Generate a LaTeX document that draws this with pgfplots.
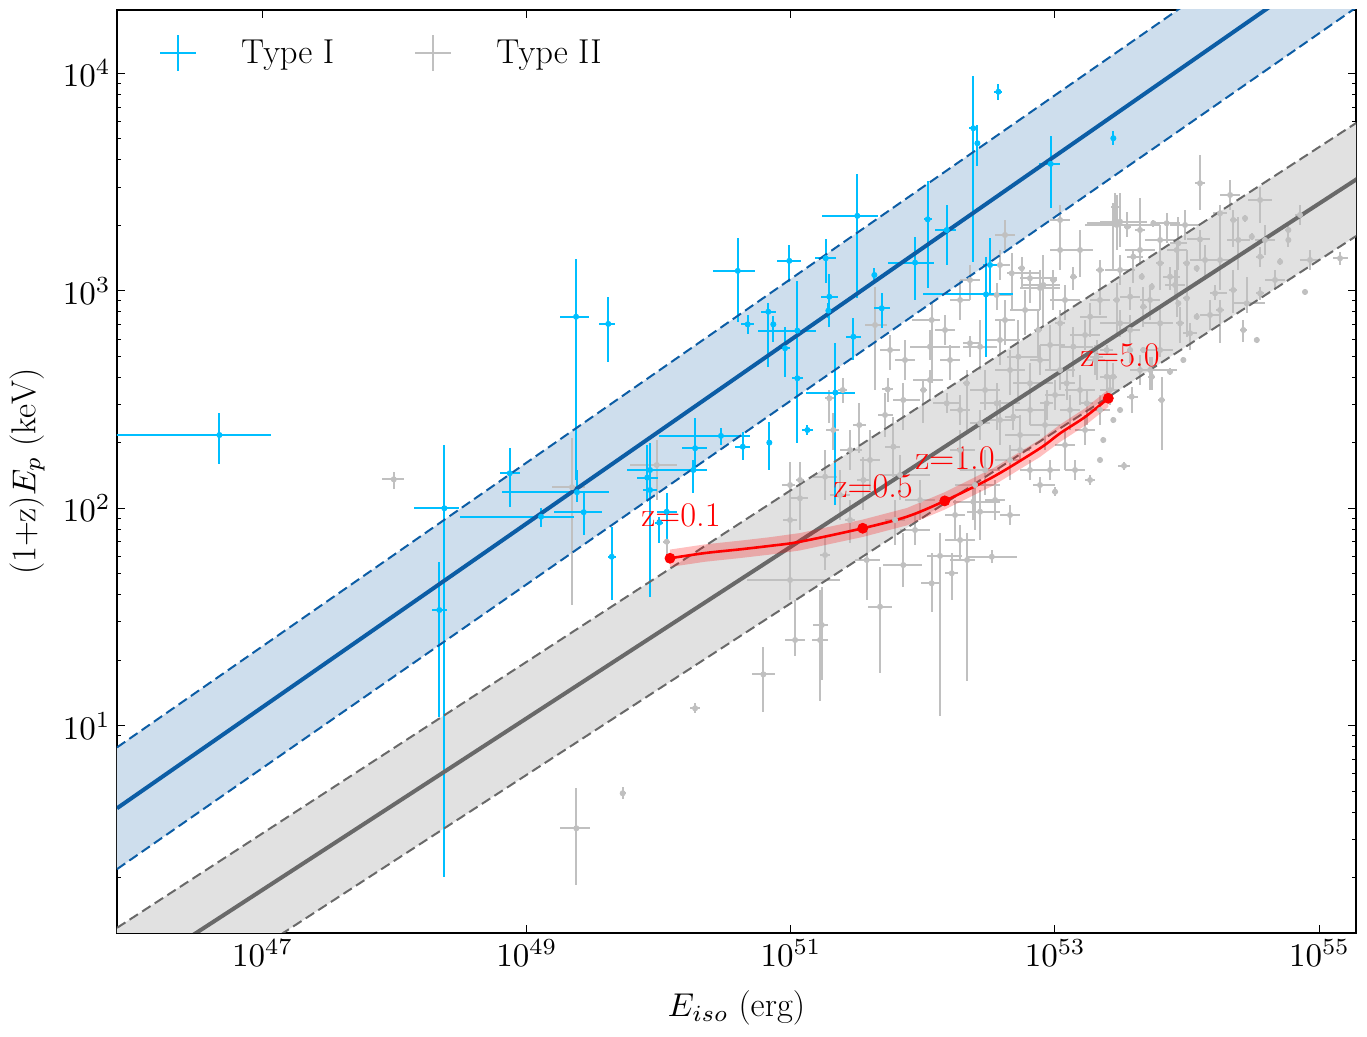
\documentclass[border=0pt]{standalone}
\usepackage[OT1]{fontenc}
\usepackage{pgfplots}
\usepackage{pgfplotstable}
\pgfplotsset{compat=1.18}
\DeclareFontShape{OT1}{cmr}{m}{n}{<-13> cmr7 <13-> cmr10}{}
\DeclareFontShape{OML}{cmm}{m}{it}{<-13> cmmi7 <13-> cmmi10}{}
\DeclareFontShape{OMS}{cmsy}{m}{n}{<-13> cmsy7 <13-> cmsy10}{}
\definecolor{typeI}{RGB}{0,191,255}
\definecolor{typeII}{RGB}{192,192,192}
\definecolor{sblue}{HTML}{0C5DA5}
\definecolor{sbluefill}{RGB}{206,222,237}
\definecolor{dgray}{RGB}{105,105,105}
\definecolor{gfill}{RGB}{225,225,225}
\newcommand\myfont{\fontsize{16.5}{19.8}\selectfont}

% log10(E_iso/erg)  log10((1+z)Ep/keV)  and log-errors
\pgfplotstableread{
x y xm xp yp ym
46.675 2.337 0.900 0.391 0.100 0.133
48.378 2.000 0.232 0.109 0.291 1.696
48.340 1.532 0.055 0.058 0.222 0.491
48.873 2.161 0.076 0.076 0.115 0.153
49.110 1.961 0.615 0.247 0.039 0.046
49.375 2.881 0.121 0.101 0.264 0.751
49.382 2.074 0.568 0.242 0.103 0.043
49.433 1.982 0.227 0.139 0.095 0.104
49.619 2.848 0.068 0.050 0.126 0.173
49.645 1.777 0.030 0.030 0.138 0.199
49.935 2.176 0.176 0.227 0.124 0.584
49.914 2.141 0.080 0.080 0.150 0.103
49.935 2.084 0.050 0.050 0.046 0.046
50.061 1.984 0.076 0.076 0.085 0.130
50.005 1.934 0.030 0.030 0.028 0.094
50.276 2.276 0.101 0.088 0.138 0.100
50.263 2.176 0.100 0.100 0.046 0.107
50.472 2.333 0.469 0.220 0.037 0.041
50.637 2.283 0.057 0.057 0.068 0.063
50.838 2.302 0.020 0.020 0.097 0.126
50.599 3.092 0.185 0.131 0.153 0.233
50.674 2.846 0.050 0.050 0.043 0.043
50.989 3.138 0.090 0.090 0.074 0.095
51.265 3.150 0.080 0.080 0.089 0.115
51.504 3.345 0.269 0.159 0.193 0.379
51.633 3.073 0.015 0.015 0.030 0.030
50.830 2.904 0.055 0.055 0.041 0.253
50.868 2.846 0.015 0.015 0.038 0.080
50.957 2.736 0.040 0.040 0.099 0.130
51.050 2.817 0.300 0.142 0.230 0.135
51.050 2.598 0.040 0.040 0.084 0.299
51.292 2.973 0.066 0.066 0.104 0.138
51.285 2.909 0.015 0.015 0.035 0.035
51.474 2.789 0.055 0.055 0.085 0.107
51.689 2.920 0.062 0.062 0.072 0.092
51.941 3.130 0.202 0.144 0.120 0.172
51.338 2.532 0.222 0.149 0.227 0.517
51.126 2.360 0.040 0.040 0.023 0.023
52.572 3.916 0.030 0.030 0.037 0.037
52.382 3.748 0.035 0.035 0.242 0.614
52.413 3.679 0.020 0.020 0.084 0.104
52.968 3.584 0.086 0.070 0.129 0.204
53.442 3.702 0.020 0.020 0.032 0.032
52.037 3.329 0.030 0.030 0.178 0.317
52.181 3.280 0.089 0.070 0.115 0.161
52.509 3.119 0.053 0.053 0.123 0.130
52.478 2.984 0.475 0.207 0.173 0.288
}\typeItab

\pgfplotstableread{
x y xm xp yp ym
47.995 2.133 0.089 0.080 0.035 0.046
49.344 2.097 0.151 0.098 0.227 0.541
49.377 0.528 0.121 0.101 0.184 0.261
49.986 2.199 0.202 0.151 0.115 0.161
50.061 1.846 0.028 0.025 0.115 0.084
50.995 1.670 0.326 0.379 0.092 0.092
50.995 1.946 0.053 0.053 0.267 0.216
51.638 2.843 0.076 0.089 0.176 0.299
51.734 2.547 0.043 0.040 0.052 0.057
51.714 2.429 0.053 0.061 0.101 0.101
51.394 2.544 0.036 0.033 0.055 0.060
51.292 2.506 0.033 0.036 0.038 0.115
51.322 2.360 0.055 0.043 0.078 0.092
51.519 2.383 0.048 0.051 0.101 0.129
51.777 2.283 0.063 0.051 0.137 0.139
51.260 2.145 0.091 0.091 0.123 0.107
51.550 2.130 0.048 0.051 0.106 0.138
51.070 2.130 0.030 0.030 0.084 0.092
50.995 2.107 0.063 0.038 0.107 0.161
51.070 2.046 0.076 0.061 0.162 0.146
51.235 1.463 0.066 0.048 0.176 0.253
51.033 1.394 0.076 0.076 0.184 0.074
50.793 1.236 0.088 0.088 0.124 0.172
51.676 1.547 0.091 0.091 0.183 0.305
51.575 1.762 0.089 0.101 0.138 0.184
51.260 1.785 0.038 0.038 0.083 0.069
51.852 1.739 0.151 0.139 0.146 0.100
52.067 1.655 0.081 0.063 0.139 0.131
52.130 1.781 0.098 0.167 0.106 0.736
52.219 1.701 0.051 0.048 0.093 0.123
52.335 1.762 0.129 0.061 0.124 0.557
52.522 1.777 0.177 0.189 0.031 0.029
52.887 2.107 0.053 0.114 0.037 0.037
53.001 2.076 0.023 0.023 0.022 0.020
52.382 2.030 0.154 0.202 0.068 0.084
52.433 1.984 0.098 0.151 0.100 0.130
51.449 1.946 0.038 0.038 0.092 0.106
52.067 2.866 0.151 0.063 0.078 0.290
52.054 2.743 0.151 0.227 0.077 0.061
52.054 2.590 0.129 0.098 0.046 0.092
52.357 2.759 0.053 0.076 0.034 0.063
52.433 2.743 0.129 0.129 0.123 0.107
52.559 2.981 0.076 0.126 0.055 0.069
52.673 3.081 0.038 0.214 0.093 0.169
52.749 3.104 0.028 0.025 0.052 0.086
52.811 3.058 0.076 0.202 0.038 0.114
52.912 3.027 0.154 0.127 0.138 0.192
52.988 3.050 0.025 0.028 0.046 0.138
53.190 3.188 0.114 0.101 0.092 0.123
53.442 3.311 0.201 0.051 0.093 0.215
53.341 3.096 0.030 0.030 0.046 0.138
53.139 3.065 0.025 0.028 0.045 0.061
52.723 2.697 0.088 0.164 0.169 0.186
52.874 2.820 0.033 0.028 0.092 0.124
53.039 2.851 0.038 0.038 0.061 0.247
53.139 2.743 0.101 0.151 0.091 0.139
53.266 2.881 0.076 0.126 0.063 0.093
53.316 2.697 0.051 0.048 0.077 0.107
52.559 2.483 0.126 0.176 0.093 0.124
52.332 2.575 0.028 0.025 0.061 0.215
52.811 2.575 0.129 0.174 0.093 0.123
52.938 2.483 0.051 0.048 0.061 0.077
53.089 2.575 0.051 0.063 0.061 0.077
53.241 2.483 0.051 0.048 0.061 0.099
53.392 2.605 0.051 0.048 0.077 0.084
51.852 2.498 0.078 0.126 0.078 0.138
52.004 2.544 0.025 0.028 0.046 0.152
52.181 2.483 0.104 0.100 0.047 0.045
52.685 2.421 0.063 0.051 0.054 0.061
52.433 2.391 0.076 0.076 0.061 0.077
53.468 3.303 0.240 0.327 0.138 0.115
53.548 3.295 0.025 0.028 0.069 0.046
53.644 3.280 0.038 0.038 0.147 0.077
53.745 3.311 0.015 0.015 0.015 0.015
54.098 3.495 0.038 0.038 0.130 0.123
54.553 3.418 0.089 0.088 0.061 0.107
54.439 3.334 0.015 0.015 0.015 0.015
54.350 3.326 0.025 0.028 0.046 0.123
54.250 3.357 0.053 0.053 0.038 0.054
54.490 3.249 0.015 0.015 0.015 0.015
54.388 3.234 0.088 0.089 0.107 0.138
54.767 3.280 0.025 0.021 0.038 0.077
54.767 3.234 0.015 0.015 0.015 0.015
54.704 3.134 0.015 0.015 0.015 0.015
54.553 3.157 0.030 0.030 0.046 0.046
55.158 3.150 0.050 0.063 0.031 0.031
54.250 3.142 0.076 0.076 0.216 0.138
54.098 3.237 0.101 0.076 0.043 0.095
53.934 3.219 0.063 0.063 0.122 0.123
53.846 3.311 0.101 0.101 0.046 0.092
53.455 3.387 0.030 0.030 0.062 0.092
53.593 3.157 0.050 0.076 0.031 0.121
53.796 3.127 0.030 0.030 0.061 0.123
53.998 3.127 0.028 0.025 0.061 0.123
54.073 3.104 0.015 0.015 0.015 0.015
54.553 2.989 0.030 0.030 0.030 0.031
54.452 2.943 0.101 0.139 0.122 0.046
54.350 3.004 0.033 0.028 0.092 0.107
54.212 2.989 0.038 0.089 0.038 0.031
54.250 2.912 0.030 0.030 0.046 0.153
54.426 2.820 0.025 0.028 0.046 0.054
54.528 2.774 0.015 0.015 0.015 0.015
54.073 2.881 0.015 0.015 0.015 0.015
53.998 2.966 0.028 0.025 0.099 0.177
53.934 2.943 0.015 0.015 0.015 0.015
53.871 3.065 0.053 0.076 0.046 0.061
53.733 3.019 0.015 0.015 0.015 0.015
53.657 3.065 0.015 0.015 0.015 0.015
53.569 2.973 0.076 0.076 0.046 0.061
53.468 2.958 0.028 0.025 0.078 0.169
53.493 2.851 0.151 0.076 0.061 0.062
53.669 2.927 0.025 0.028 0.092 0.092
53.796 2.851 0.126 0.101 0.076 0.154
53.947 2.851 0.030 0.030 0.076 0.092
54.023 2.805 0.051 0.051 0.046 0.077
53.796 2.728 0.151 0.101 0.032 0.032
53.720 2.636 0.151 0.202 0.061 0.092
53.871 2.628 0.015 0.015 0.015 0.015
53.972 2.682 0.015 0.015 0.015 0.015
53.669 2.728 0.015 0.015 0.015 0.015
53.569 2.728 0.023 0.023 0.032 0.060
53.392 2.728 0.051 0.050 0.023 0.023
53.442 2.605 0.025 0.028 0.063 0.061
53.581 2.513 0.038 0.050 0.046 0.077
53.493 2.452 0.015 0.015 0.015 0.015
53.808 2.498 0.028 0.025 0.107 0.230
53.733 2.605 0.028 0.025 0.092 0.061
53.442 2.406 0.015 0.015 0.015 0.015
53.366 2.314 0.015 0.015 0.015 0.015
50.276 1.080 0.038 0.038 0.023 0.023
49.728 0.689 0.020 0.025 0.029 0.026
51.222 1.394 0.061 0.061 0.230 0.281
53.493 3.318 0.151 0.202 0.132 0.115
53.922 3.188 0.076 0.076 0.031 0.307
52.622 2.866 0.076 0.076 0.092 0.115
52.282 2.958 0.076 0.076 0.092 0.092
53.039 3.188 0.076 0.076 0.069 0.092
53.341 2.452 0.076 0.076 0.069 0.069
52.887 2.682 0.076 0.076 0.069 0.069
52.206 2.682 0.076 0.076 0.069 0.092
53.114 2.452 0.076 0.076 0.069 0.092
52.584 2.406 0.114 0.114 0.092 0.115
52.736 2.337 0.114 0.151 0.092 0.115
52.925 2.383 0.114 0.114 0.092 0.115
53.076 2.291 0.076 0.076 0.069 0.115
53.228 2.360 0.076 0.076 0.069 0.069
52.660 2.222 0.114 0.076 0.069 0.092
52.471 2.176 0.189 0.114 0.092 0.115
52.282 2.268 0.076 0.114 0.092 0.092
52.811 2.176 0.076 0.114 0.046 0.046
53.341 2.222 0.015 0.015 0.015 0.015
53.523 2.195 0.045 0.045 0.018 0.018
52.395 2.107 0.151 0.189 0.069 0.207
52.547 2.038 0.076 0.076 0.092 0.092
52.244 1.969 0.076 0.076 0.069 0.115
52.660 1.969 0.076 0.076 0.046 0.046
51.979 2.038 0.114 0.114 0.092 0.092
51.790 1.946 0.076 0.076 0.092 0.115
51.941 1.900 0.114 0.114 0.069 0.069
52.282 1.854 0.114 0.114 0.069 0.092
51.827 2.153 0.151 0.227 0.092 0.115
51.600 2.222 0.076 0.076 0.138 0.138
51.373 2.061 0.076 0.076 0.115 0.115
51.449 2.268 0.076 0.091 0.092 0.092
51.865 2.682 0.076 0.076 0.092 0.092
51.752 2.728 0.076 0.076 0.069 0.092
54.893 2.995 0.015 0.015 0.015 0.015
52.584 2.774 0.114 0.151 0.092 0.115
52.774 2.912 0.114 0.114 0.092 0.115
52.887 3.013 0.151 0.151 0.083 0.101
53.076 2.958 0.114 0.114 0.069 0.092
53.228 2.797 0.114 0.114 0.069 0.069
52.963 2.751 0.076 0.114 0.092 0.115
52.660 2.636 0.114 0.114 0.092 0.115
52.471 2.544 0.114 0.114 0.092 0.092
53.039 2.636 0.114 0.114 0.069 0.092
53.190 2.544 0.114 0.114 0.069 0.069
52.812 2.452 0.114 0.114 0.069 0.069
53.001 2.521 0.076 0.076 0.069 0.069
53.341 2.958 0.076 0.076 0.069 0.069
53.493 3.096 0.114 0.114 0.069 0.069
53.644 3.188 0.114 0.114 0.069 0.069
53.796 3.234 0.114 0.114 0.069 0.069
53.985 3.303 0.114 0.114 0.069 0.069
54.136 3.142 0.114 0.114 0.069 0.092
53.720 2.958 0.076 0.076 0.069 0.092
53.909 3.027 0.076 0.076 0.069 0.069
54.174 2.889 0.076 0.076 0.069 0.069
53.569 2.820 0.076 0.076 0.069 0.069
53.304 2.682 0.076 0.076 0.069 0.069
53.417 2.544 0.076 0.076 0.069 0.069
53.644 2.636 0.076 0.076 0.069 0.069
52.584 3.119 0.076 0.076 0.069 0.069
52.357 3.050 0.076 0.076 0.069 0.092
52.168 2.820 0.076 0.076 0.069 0.069
52.282 2.452 0.076 0.076 0.069 0.069
52.736 2.268 0.076 0.076 0.046 0.046
52.963 2.176 0.076 0.076 0.046 0.046
53.152 2.176 0.076 0.076 0.046 0.046
53.266 2.130 0.038 0.038 0.023 0.023
52.622 3.257 0.076 0.076 0.069 0.069
53.039 3.326 0.076 0.076 0.069 0.069
54.326 3.441 0.076 0.076 0.069 0.069
54.590 3.234 0.076 0.076 0.069 0.069
54.855 3.349 0.038 0.038 0.046 0.046
54.931 3.142 0.076 0.076 0.046 0.046
54.666 3.050 0.076 0.076 0.046 0.046
}\typeIItab

\begin{document}
\begin{tikzpicture}
\begin{axis}[
  name=ax,
  scale only axis, width=619.5pt, height=461.5pt,
  xmin=45.900, xmax=55.279, ymin=0.0464, ymax=4.292,
  xtick={47,49,51,53,55},
  xticklabels={$10^{47}$,$10^{49}$,$10^{51}$,$10^{53}$,$10^{55}$},
  ytick={1,2,3,4},
  yticklabels={$10^{1}$,$10^{2}$,$10^{3}$,$10^{4}$},
  minor ytick={0.301,0.477,0.602,0.699,0.778,0.845,0.903,0.954,
               1.301,1.477,1.602,1.699,1.778,1.845,1.903,1.954,
               2.301,2.477,2.602,2.699,2.778,2.845,2.903,2.954,
               3.301,3.477,3.602,3.699,3.778,3.845,3.903,3.954},
  tick align=inside,
  major tick length=4pt, minor tick length=2pt,
  every tick/.style={black, line width=0.5pt},
  axis line style={line width=0.8pt},
  tick label style={font=\myfont},
  xlabel={$E_{iso}$ (erg)},
  ylabel={(1+z)$E_p$ (keV)},
  label style={font=\myfont},
  xlabel style={at={(axis description cs:0.5,-0.0813)}, anchor=center},
  ylabel style={at={(axis description cs:-0.0726,0.5)}, anchor=center},
  legend style={at={(rel axis cs:0.034,0.9534)}, anchor=west, draw=none, fill=none,
    font=\myfont, inner sep=0pt, outer sep=0pt,
    /tikz/every odd column/.append style={column sep=20pt},
    /tikz/every even column/.append style={column sep=38pt}},
  legend columns=2,
  legend cell align=left,
]
% bands
\addplot[draw=none, fill=sbluefill, forget plot] coordinates {(45.9,0.900) (55.3,4.8715) (55.3,4.3115) (45.9,0.340)} -- cycle;
\addplot[draw=none, fill=gfill, forget plot] coordinates {(45.9,0.070) (55.3,3.780) (55.3,3.260) (45.9,-0.450)} -- cycle;

% Type II
\addplot[only marks, mark=*, mark size=1.3pt, color=typeII, forget plot,
  error bars/.cd, x dir=both, x explicit, y dir=both, y explicit, error mark=none,
  error bar style={line width=1pt, typeII}]
  table[x=x, y=y, x error plus=xp, x error minus=xm, y error plus=yp, y error minus=ym] {\typeIItab};
% Type I
\addplot[only marks, mark=*, mark size=1.3pt, color=typeI, forget plot,
  error bars/.cd, x dir=both, x explicit, y dir=both, y explicit, error mark=none,
  error bar style={line width=1pt, typeI}]
  table[x=x, y=y, x error plus=xp, x error minus=xm, y error plus=yp, y error minus=ym] {\typeItab};

% relations
\addplot[sblue, line width=2pt, forget plot] coordinates {(45.9,0.620) (55.3,4.5915)};
\addplot[sblue, line width=1pt, dash pattern=on 5pt off 2.5pt, forget plot] coordinates {(45.9,0.900) (55.3,4.8715)};
\addplot[sblue, line width=1pt, dash pattern=on 5pt off 2.5pt, forget plot] coordinates {(45.9,0.340) (55.3,4.3115)};
\addplot[dgray, line width=2pt, forget plot] coordinates {(45.9,-0.190) (55.3,3.520)};
\addplot[dgray, line width=1pt, dash pattern=on 5pt off 2.5pt, forget plot] coordinates {(45.9,0.070) (55.3,3.780)};
\addplot[dgray, line width=1pt, dash pattern=on 5pt off 2.5pt, forget plot] coordinates {(45.9,-0.450) (55.3,3.260)};

% red track
\addplot[draw=none, fill=red, fill opacity=0.25, forget plot] coordinates {
(50.086,1.810) (50.351,1.834) (50.616,1.851) (50.843,1.867) (51.070,1.886) (51.545,1.948)
(51.878,2.001) (52.166,2.074) (52.534,2.185) (52.887,2.316) (53.039,2.385) (53.228,2.460) (53.404,2.546)
(53.404,2.466) (53.228,2.380) (53.039,2.305) (52.887,2.236) (52.534,2.105) (52.166,1.994) (51.878,1.921)
(51.545,1.868) (51.070,1.806) (50.843,1.787) (50.616,1.771) (50.351,1.754) (50.086,1.730)} -- cycle;
\addplot[red, line width=1.3pt, smooth, forget plot] coordinates {
(50.086,1.770) (50.351,1.794) (50.616,1.811) (50.843,1.827) (51.070,1.846) (51.545,1.908)
(51.878,1.961) (52.166,2.034) (52.534,2.145) (52.887,2.276) (53.039,2.345) (53.228,2.420) (53.404,2.506)};
\addplot[only marks, mark=*, mark size=2.5pt, red, forget plot] coordinates {
(50.086,1.770) (51.545,1.908) (52.166,2.034) (53.404,2.506)};
\node[red, font=\myfont, inner sep=0pt] at (axis cs:50.170,1.969) {z=0.1};
\node[red, font=\myfont, inner sep=0pt] at (axis cs:51.625,2.103) {z=0.5};
\node[red, font=\myfont, inner sep=0pt] at (axis cs:52.244,2.230) {z=1.0};
\node[red, font=\myfont, inner sep=0pt] at (axis cs:53.493,2.705) {z=5.0};

% legend
\addlegendimage{legend image code/.code={
  \draw[typeI, line width=1pt] (0pt,0pt) -- (18pt,0pt);
  \draw[typeI, line width=1pt] (9pt,-9pt) -- (9pt,9pt);}}
\addlegendentry{Type I}
\addlegendimage{legend image code/.code={
  \draw[typeII, line width=1pt] (0pt,0pt) -- (18pt,0pt);
  \draw[typeII, line width=1pt] (9pt,-9pt) -- (9pt,9pt);}}
\addlegendentry{Type II}
\end{axis}
\path ([xshift=-58.5pt, yshift=-52pt]ax.south west) rectangle ([xshift=5.5pt, yshift=5pt]ax.north east);
\end{tikzpicture}
\end{document}
